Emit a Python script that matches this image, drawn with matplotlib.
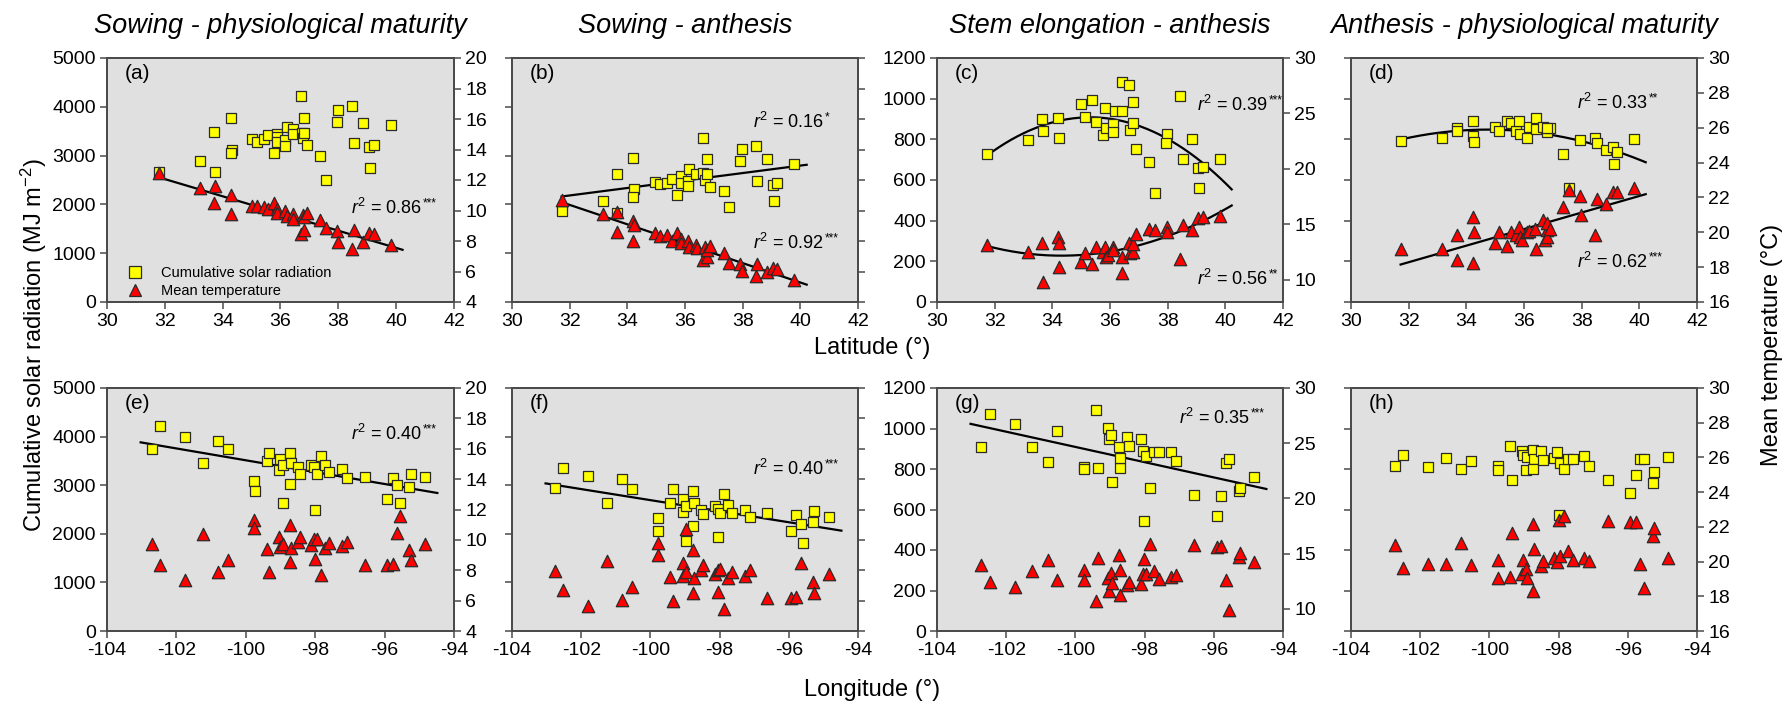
import numpy as np
import matplotlib
matplotlib.use("Agg")
import matplotlib.pyplot as plt
from matplotlib.lines import Line2D

plt.rcParams['font.family'] = ['Liberation Sans', 'DejaVu Sans']
plt.rcParams['mathtext.fontset'] = 'custom'
plt.rcParams['mathtext.rm'] = 'Liberation Sans'
plt.rcParams['mathtext.it'] = 'Liberation Sans:italic'
plt.rcParams['mathtext.bf'] = 'Liberation Sans:bold'
plt.rcParams['axes.unicode_minus'] = False

# ---------------- data ----------------
titles = ["Sowing - physiological maturity", "Sowing - anthesis",
          "Stem elongation - anthesis", "Anthesis - physiological maturity"]
panel_tags = ["(a)", "(b)", "(c)", "(d)", "(e)", "(f)", "(g)", "(h)"]
legend_labels = ["Cumulative solar radiation", "Mean temperature"]

# (a) sowing - maturity vs latitude
a_sq_lat = [31.79, 33.22, 33.71, 33.74, 34.29, 34.32, 34.29, 35.03, 35.18, 35.43, 35.58, 35.89, 35.89, 35.89,
            35.76, 36.15, 36.15, 36.21, 36.43, 36.43, 36.71, 36.74, 36.77, 36.82, 36.82, 36.91, 37.37, 37.58,
            37.97, 37.99, 38.47, 38.54, 38.86, 39.11, 39.06, 39.22, 39.83]
a_sq_rad = [2670, 2890, 3490, 2660, 3780, 3120, 3050, 3340, 3270, 3350, 3420, 3440, 3390, 3280, 3050, 3320,
            3190, 3580, 3540, 3440, 4230, 3470, 3370, 3770, 3460, 3210, 2990, 2510, 3690, 3940, 4010, 3260,
            3670, 2750, 3180, 3210, 3620]
a_tr_lat = [31.79, 33.22, 33.71, 33.74, 34.29, 34.29, 35.03, 35.18, 35.43, 35.58, 35.76, 35.89, 35.89, 36.15,
            36.21, 36.43, 36.43, 36.71, 36.77, 36.82, 36.82, 36.91, 37.37, 37.58, 37.97, 37.99, 38.47, 38.54,
            38.86, 39.06, 39.22, 39.83]
a_tr_temp = [12.43, 11.45, 10.46, 11.62, 11.01, 9.76, 10.31, 10.31, 10.24, 10.07, 10.50, 10.13, 9.85, 9.96,
             9.63, 9.76, 9.47, 8.44, 9.69, 8.75, 9.58, 9.85, 9.36, 8.82, 8.64, 7.94, 7.48, 8.75, 7.94, 8.53,
             8.49, 7.76]

# (b) sowing - anthesis vs latitude
b_sq_lat = [31.72, 33.14, 33.63, 33.65, 34.21, 34.24, 34.21, 34.97, 35.13, 35.36, 35.54, 35.71, 35.85, 35.85,
            36.12, 36.12, 36.15, 36.38, 36.64, 36.64, 36.71, 36.75, 36.77, 36.87, 37.35, 37.54, 37.91, 37.97,
            38.45, 38.51, 38.83, 39.06, 39.18, 39.10, 39.79]
b_sq_rad = [1857, 2063, 2627, 1823, 2958, 2318, 2153, 2455, 2421, 2442, 2524, 2201, 2579, 2442, 2476, 2373,
            2717, 2614, 3370, 2648, 2510, 2937, 2614, 2352, 2270, 1940, 2889, 3143, 3198, 2476, 2923, 2407,
            2442, 2063, 2820]
b_tr_lat = [31.72, 33.14, 33.63, 33.65, 34.21, 34.24, 34.21, 34.97, 35.13, 35.36, 35.54, 35.71, 35.85, 35.85,
            36.12, 36.15, 36.38, 36.40, 36.64, 36.71, 36.75, 36.77, 36.87, 37.35, 37.54, 37.91, 37.97, 38.45,
            38.51, 38.83, 39.06, 39.18, 39.79]
b_tr_temp = [10.67, 9.77, 8.62, 9.88, 9.33, 9.06, 8.01, 8.51, 8.34, 8.40, 8.01, 8.51, 8.12, 7.85, 8.01, 7.63,
             7.74, 7.52, 6.75, 7.63, 6.97, 7.41, 7.70, 7.19, 6.58, 6.49, 6.05, 5.70, 6.49, 5.98, 6.20, 6.14,
             5.43]

# (c) stem elongation - anthesis vs latitude
c_sq_lat = [31.72, 33.14, 33.64, 33.66, 34.21, 34.24, 34.99, 35.13, 35.39, 35.51, 35.75, 35.84, 35.86, 36.09,
            36.12, 36.17, 36.40, 36.43, 36.67, 36.69, 36.79, 36.79, 36.89, 37.36, 37.56, 37.97, 37.94, 38.43,
            38.52, 38.84, 39.06, 39.21, 39.10, 39.82]
c_sq_rad = [730, 797, 900, 842, 905, 809, 974, 908, 994, 883, 822, 952, 858, 875, 834, 941, 941, 1084, 1065,
            847, 982, 880, 754, 688, 536, 825, 784, 1015, 701, 800, 660, 664, 561, 701]
c_tr_lat = [31.72, 33.14, 33.64, 33.66, 34.21, 34.24, 34.23, 34.99, 35.13, 35.39, 35.51, 35.75, 35.84, 35.86,
            35.94, 36.09, 36.12, 36.40, 36.43, 36.67, 36.69, 36.79, 36.79, 36.89, 37.36, 37.56, 37.97, 37.99,
            38.43, 38.52, 38.84, 39.06, 39.21, 39.82]
c_tr_temp = [13.15, 12.54, 13.36, 9.82, 13.90, 13.36, 11.18, 11.63, 12.45, 11.42, 12.93, 12.54, 13.00, 12.03,
             12.24, 13.00, 12.69, 12.09, 10.57, 13.36, 12.39, 12.54, 13.24, 14.12, 14.57, 14.45, 14.75, 14.27,
             11.85, 14.96, 14.51, 15.57, 15.66, 15.78]

# (d) anthesis - maturity vs latitude
d_sq_lat = [31.73, 33.14, 33.66, 33.69, 34.24, 34.22, 34.28, 34.99, 35.14, 35.40, 35.55, 35.72, 35.84, 35.86,
            36.09, 36.18, 36.42, 36.42, 36.67, 36.79, 36.90, 36.79, 37.34, 37.57, 37.94, 38.46, 38.54, 38.84,
            39.07, 39.21, 39.13, 39.83]
d_sq_rad = [792, 809, 855, 842, 891, 814, 789, 863, 842, 888, 879, 842, 888, 827, 809, 863, 907, 851, 863, 835,
            855, 855, 727, 562, 797, 809, 781, 748, 764, 740, 677, 801]
d_tr_lat = [31.73, 33.14, 33.66, 33.69, 34.24, 34.28, 34.24, 34.99, 35.14, 35.40, 35.55, 35.72, 35.84, 35.86,
            35.92, 36.09, 36.18, 36.38, 36.42, 36.67, 36.73, 36.79, 36.79, 36.79, 36.90, 37.34, 37.57, 37.94,
            37.98, 38.46, 38.54, 38.84, 39.07, 39.21, 39.83]
d_tr_temp = [19.03, 19.03, 19.84, 18.40, 20.89, 20.03, 18.26, 19.36, 20.03, 19.22, 20.03, 19.87, 20.31, 19.74,
             19.55, 19.99, 20.07, 20.18, 19.03, 20.70, 19.55, 20.12, 19.74, 20.51, 20.18, 21.47, 22.42, 22.08,
             21.02, 19.84, 21.91, 21.60, 22.29, 22.29, 22.52]

# (e) sowing - maturity vs longitude
e_sq_lon = [-102.70, -102.46, -101.74, -101.22, -100.80, -100.52, -99.75, -99.73, -99.39, -99.33, -99.03,
            -99.01, -98.94, -98.93, -98.74, -98.72, -98.69, -98.50, -98.45, -98.13, -98.03, -98.00, -97.94,
            -97.83, -97.73, -97.59, -97.23, -97.08, -96.57, -95.92, -95.75, -95.63, -95.55, -95.29, -95.24,
            -94.83]
e_sq_rad = [3753, 4212, 3986, 3466, 3918, 3746, 3096, 2877, 3507, 3657, 3315, 3548, 3425, 2637, 3657, 3027,
            3459, 3370, 3240, 3425, 3383, 2486, 3240, 3596, 3425, 3274, 3329, 3151, 3164, 2719, 3151, 3014,
            2637, 2959, 3233, 3178]
e_tr_lon = [-102.70, -102.46, -101.74, -101.22, -100.80, -100.52, -99.75, -99.75, -99.39, -99.33, -99.03,
            -99.01, -98.93, -98.72, -98.69, -98.72, -98.50, -98.45, -98.13, -98.03, -98.00, -97.94, -97.83,
            -97.73, -97.59, -97.23, -97.08, -96.57, -95.92, -95.75, -95.63, -95.55, -95.29, -95.24, -94.83]
e_tr_temp = [9.70, 8.34, 7.35, 10.36, 7.86, 8.65, 11.34, 10.80, 9.37, 7.86, 10.20, 9.52, 9.72, 10.97, 9.48,
             8.56, 9.88, 10.20, 9.66, 10.03, 8.71, 10.09, 7.68, 9.48, 9.81, 9.59, 9.88, 8.34, 8.34, 8.43, 10.42,
             11.56, 9.31, 8.65, 9.74]

# (f) sowing - anthesis vs longitude
f_sq_lon = [-102.76, -102.52, -101.79, -101.26, -100.83, -100.54, -99.77, -99.77, -99.43, -99.36, -99.07,
            -99.07, -98.97, -98.97, -98.78, -98.76, -98.74, -98.54, -98.49, -98.13, -98.06, -98.04, -97.99,
            -97.86, -97.76, -97.63, -97.26, -97.12, -96.62, -95.94, -95.80, -95.65, -95.58, -95.31, -95.27,
            -94.85]
f_sq_rad = [2951, 3363, 3191, 2627, 3129, 2930, 2318, 2063, 2627, 2923, 2455, 2710, 2572, 1857, 2875, 2160,
            2627, 2490, 2407, 2572, 2517, 1940, 2435, 2820, 2593, 2435, 2490, 2352, 2435, 2063, 2394, 2194,
            1802, 2249, 2469, 2338]
f_tr_lon = [-102.76, -102.52, -101.79, -101.26, -100.83, -100.54, -99.77, -99.77, -99.43, -99.36, -99.07,
            -99.07, -98.97, -98.97, -98.78, -98.76, -98.74, -98.54, -98.49, -98.13, -98.06, -98.04, -97.99,
            -97.86, -97.76, -97.63, -97.26, -97.12, -96.62, -95.94, -95.80, -95.65, -95.31, -95.27, -94.85]
f_tr_temp = [7.96, 6.73, 5.67, 8.62, 6.03, 6.91, 9.77, 9.00, 7.57, 5.96, 8.49, 7.65, 10.69, 7.90, 9.33, 6.47,
             7.52, 8.01, 8.34, 7.74, 8.01, 6.58, 8.07, 5.45, 7.46, 7.87, 7.61, 8.01, 6.18, 6.14, 6.25, 8.49,
             7.21, 6.51, 7.74]

# (g) stem elongation - anthesis vs longitude
g_sq_lon = [-102.72, -102.48, -101.76, -101.25, -100.79, -100.52, -99.74, -99.74, -99.41, -99.34, -99.05,
            -99.03, -98.96, -98.94, -98.73, -98.72, -98.70, -98.52, -98.46, -98.11, -98.05, -98.02, -97.97,
            -97.83, -97.73, -97.59, -97.25, -97.09, -96.58, -95.92, -95.78, -95.65, -95.57, -95.28, -95.25,
            -94.85]
g_sq_rad = [907, 1071, 1023, 907, 833, 988, 808, 798, 1093, 807, 1002, 949, 969, 734, 909, 807, 853, 959, 916,
            947, 889, 542, 865, 707, 886, 883, 883, 841, 671, 567, 666, 828, 850, 693, 707, 759]
g_tr_lon = [-102.72, -102.48, -101.76, -101.25, -100.79, -100.52, -99.74, -99.74, -99.34, -99.41, -99.05,
            -99.03, -98.96, -98.94, -98.73, -98.72, -98.72, -98.52, -98.46, -98.11, -98.02, -98.05, -97.97,
            -97.83, -97.73, -97.59, -97.25, -97.09, -96.58, -95.92, -95.78, -95.65, -95.57, -95.28, -95.25,
            -94.85]
g_tr_temp = [13.94, 12.42, 11.97, 13.45, 14.39, 12.64, 13.48, 12.64, 14.64, 10.70, 12.79, 11.58, 13.27, 12.36,
             14.91, 13.48, 11.27, 12.12, 12.48, 12.27, 14.55, 13.12, 13.12, 15.85, 13.39, 12.73, 12.88, 13.09,
             15.76, 15.61, 15.70, 12.64, 9.94, 14.70, 15.06, 14.24]

# (h) anthesis - maturity vs longitude
h_sq_lon = [-102.74, -102.50, -101.78, -101.25, -100.83, -100.53, -99.75, -99.75, -99.35, -99.41, -99.06,
            -99.03, -98.95, -98.91, -98.74, -98.72, -98.74, -98.51, -98.46, -98.14, -98.05, -97.95, -98.00,
            -97.84, -97.74, -97.59, -97.26, -97.11, -96.58, -95.93, -95.76, -95.64, -95.54, -95.27, -95.23,
            -94.84]
h_sq_rad = [817, 868, 812, 855, 801, 838, 814, 797, 748, 914, 888, 868, 797, 858, 894, 851, 802, 888, 845, 855,
            884, 830, 575, 802, 851, 851, 863, 814, 745, 682, 768, 847, 847, 730, 784, 861]
h_tr_lon = [-102.74, -102.50, -101.78, -101.25, -100.83, -100.53, -99.75, -99.75, -99.41, -99.35, -99.06,
            -99.03, -98.95, -98.91, -98.74, -98.74, -98.72, -98.51, -98.46, -98.14, -98.05, -98.00, -97.95,
            -97.84, -97.74, -97.59, -97.26, -97.11, -96.58, -95.93, -95.76, -95.64, -95.54, -95.27, -95.23,
            -94.84]
h_tr_temp = [20.93, 19.64, 19.87, 19.87, 21.08, 19.80, 20.07, 19.07, 19.11, 21.66, 19.26, 20.07, 19.55, 19.07,
             18.30, 22.14, 20.74, 19.74, 20.03, 20.22, 19.99, 22.42, 20.31, 22.62, 20.60, 20.08, 20.18, 20.03,
             22.33, 22.27, 22.29, 19.87, 18.45, 21.47, 21.91, 20.22]

# regression degree (None = no fitted line) and r2 annotation (value, significance)
fit_deg_sq = [None, 1, 2, 2, 1, 1, 1, None]
fit_deg_tr = [1, 1, 2, 1, None, None, None, None]
r2_sq = [None, ("0.16", "*"), ("0.39", "***"), ("0.33", "**"), ("0.40", "***"), ("0.40", "***"), ("0.35", "***"), None]
r2_tr = [("0.86", "***"), ("0.92", "***"), ("0.56", "**"), ("0.62", "***"), None, None, None, None]
fit_range_lat = [31.72, 40.22]
fit_range_lon = [-103.03, -94.48]

sq_x = [a_sq_lat, b_sq_lat, c_sq_lat, d_sq_lat, e_sq_lon, f_sq_lon, g_sq_lon, h_sq_lon]
sq_y = [a_sq_rad, b_sq_rad, c_sq_rad, d_sq_rad, e_sq_rad, f_sq_rad, g_sq_rad, h_sq_rad]
tr_x = [a_tr_lat, b_tr_lat, c_tr_lat, d_tr_lat, e_tr_lon, f_tr_lon, g_tr_lon, h_tr_lon]
tr_y = [a_tr_temp, b_tr_temp, c_tr_temp, d_tr_temp, e_tr_temp, f_tr_temp, g_tr_temp, h_tr_temp]

# ---------------- layout / style ----------------
W, H = 1790, 703
fig = plt.figure(figsize=(W / 100, H / 100), dpi=100)
col_px = [(107, 454), (512, 858), (937, 1283), (1351, 1697)]
row_px = [(58, 302), (388, 631)]

left_lim = [(0, 5000, 1000), (0, 5000, 1000), (0, 1200, 200), (0, 1200, 200)]
right_lim = [(4, 20, [4, 6, 8, 10, 12, 14, 16, 18, 20]), (4, 20, [4, 6, 8, 10, 12, 14, 16, 18, 20]),
             (8, 30, [10, 15, 20, 25, 30]), (16, 30, [16, 18, 20, 22, 24, 26, 28, 30])]
left_labels_on = [True, False, True, False]
right_labels_on = [True, False, True, True]

# r2 text positions (axes fraction)
pos_sq = [None, (0.697, 0.738), (0.751, 0.807), (0.653, 0.816), (0.703, 0.81), (0.697, 0.668), (0.70, 0.877), None]
pos_tr = [(0.703, 0.385), (0.697, 0.242), (0.751, 0.094), (0.653, 0.164), None, None, None, None]

spine_c = '#4a4a4a'
for i in range(8):
    row, col = divmod(i, 4)
    l, r = col_px[col]
    t, b = row_px[row]
    ax = fig.add_axes([l / W, 1 - b / H, (r - l) / W, (b - t) / H])
    ax2 = ax.twinx()
    ax.set_facecolor('#e0e0e0')

    if row == 0:
        ax.set_xlim(30, 42)
        ax.set_xticks(np.arange(30, 43, 2))
        rng = fit_range_lat
    else:
        ax.set_xlim(-104, -94)
        ax.set_xticks(np.arange(-104, -93, 2))
        rng = fit_range_lon

    y0, y1, st = left_lim[col]
    ax.set_ylim(y0, y1)
    ax.set_yticks(np.arange(y0, y1 + 1, st))
    r0, r1, rt = right_lim[col]
    ax2.set_ylim(r0, r1)
    ax2.set_yticks(rt)

    for a in (ax, ax2):
        for sp in a.spines.values():
            sp.set_color(spine_c)
            sp.set_linewidth(1.3)
        a.tick_params(direction='out', length=5, width=1.1, color=spine_c, labelsize=14, pad=3)
    ax.tick_params(axis='y', labelleft=left_labels_on[col])
    ax2.tick_params(axis='y', labelright=right_labels_on[col])

    ax.scatter(sq_x[i], sq_y[i], marker='s', s=62, c='#ffff00', edgecolors='#2a2a2a', linewidths=0.9, zorder=3)
    ax2.scatter(tr_x[i], tr_y[i], marker='^', s=80, c='#ff0000', edgecolors='#2a2a2a', linewidths=0.9, zorder=3)

    xx = np.linspace(rng[0], rng[1], 200)
    if fit_deg_sq[i] is not None:
        cf = np.polyfit(sq_x[i], sq_y[i], fit_deg_sq[i])
        ax.plot(xx, np.polyval(cf, xx), color='black', lw=1.6, zorder=2)
    if fit_deg_tr[i] is not None:
        cf = np.polyfit(tr_x[i], tr_y[i], fit_deg_tr[i])
        ax2.plot(xx, np.polyval(cf, xx), color='black', lw=1.6, zorder=2)

    for stat, pos in ((r2_sq[i], pos_sq[i]), (r2_tr[i], pos_tr[i])):
        if stat is not None:
            txt = ax2.text(pos[0], pos[1], r'$\mathit{r}^{2}$ = ' + stat[0],
                           transform=ax2.transAxes, ha='left', va='center', fontsize=13, zorder=5)
            ax2.annotate(stat[1], xy=(1.0, 0.72), xycoords=txt, xytext=(0.5, 0), textcoords='offset points',
                         ha='left', va='center', fontsize=8.5, zorder=5)

    ax2.text(0.05, 0.975, panel_tags[i], transform=ax2.transAxes, ha='left', va='top', fontsize=15, zorder=5)

    if row == 0:
        fig.text((l + r) / 2 / W, 1 - 26 / H, titles[col], ha='center', va='center',
                 fontsize=19.5, style='italic')

    if i == 0:
        handles = [Line2D([], [], ls='none', marker='s', ms=8, mfc='#ffff00', mec='#2a2a2a', mew=0.9),
                   Line2D([], [], ls='none', marker='^', ms=9, mfc='#ff0000', mec='#2a2a2a', mew=0.9)]
        ax2.legend(handles, legend_labels, loc='lower left', bbox_to_anchor=(0.06, 0.015), frameon=False,
                   fontsize=10.5, handlelength=1.0, handletextpad=1.3, labelspacing=0.3,
                   borderpad=0, borderaxespad=0)

fig.text(872 / W, 1 - 348 / H, 'Latitude (°)', ha='center', va='center', fontsize=17)
fig.text(872 / W, 1 - 690 / H, 'Longitude (°)', ha='center', va='center', fontsize=17)
fig.text(34 / W, 1 - 345 / H, r'Cumulative solar radiation (MJ m$^{-2}$)', ha='center', va='center',
         rotation=90, fontsize=17)
fig.text(1772 / W, 1 - 345 / H, 'Mean temperature (°C)', ha='center', va='center', rotation=90, fontsize=17)

fig.savefig('out.png', dpi=100)
